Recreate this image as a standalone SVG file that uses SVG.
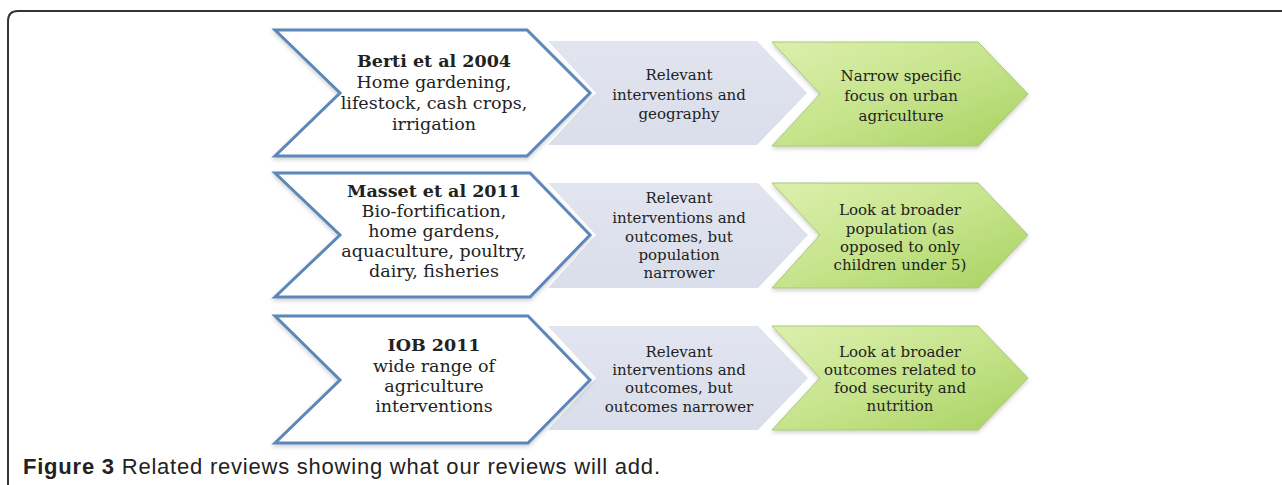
<svg xmlns="http://www.w3.org/2000/svg" width="1282" height="485" viewBox="0 0 1282 485">
  <defs>
    <linearGradient id="gGreen" x1="0" y1="0" x2="1" y2="1">
      <stop offset="0" stop-color="#dcefac"/>
      <stop offset="0.5" stop-color="#c6e48c"/>
      <stop offset="1" stop-color="#a8d160"/>
    </linearGradient>
    <linearGradient id="gGrey" x1="0" y1="0" x2="0" y2="1">
      <stop offset="0" stop-color="#e2e5f0"/>
      <stop offset="1" stop-color="#dadeea"/>
    </linearGradient>
    <filter id="shadow" x="-10%" y="-10%" width="120%" height="130%">
      <feDropShadow dx="0" dy="2" stdDeviation="2" flood-color="#000" flood-opacity="0.2"/>
    </filter>
  </defs>
  <style>
    .frame { fill: none; stroke: #333; stroke-width: 2; }
    .white { fill: #ffffff; stroke: #5b87b8; stroke-width: 3; stroke-linejoin: miter; filter: url(#shadow); }
    .grey { fill: url(#gGrey); stroke: none; }
    .green { fill: url(#gGreen); stroke: #a8c878; stroke-width: 1; filter: url(#shadow); }
    .t { font-family: "DejaVu Serif", "Liberation Serif", serif; fill: #222; text-anchor: middle; }
    .tw { font-size: 17.5px; }
    .tb { font-size: 17.5px; font-weight: bold; }
    .ts { font-size: 15px; }
    .cap { font-family: "Liberation Sans", Arial, sans-serif; font-size: 22px; fill: #222; }
  </style>

  <path class="frame" d="M8,485 V21 Q8,11 18,11 H1282"/>

  <g id="connectors"></g>

  <!-- Row 1 -->
  <g id="green1">
    <polygon class="green" points="772,42 978,42 1028,94 978,146 772,146 820,94"/>
    <text class="t ts"><tspan x="901" y="81">Narrow specific</tspan><tspan x="901" y="101">focus on urban</tspan><tspan x="901" y="121">agriculture</tspan></text>
  </g>
  <g id="grey1">
    <polygon class="grey" points="548,41 757,41 807,93 757,145 548,145 596,93"/>
    <text class="t ts"><tspan x="679" y="80">Relevant</tspan><tspan x="679" y="100">interventions and</tspan><tspan x="679" y="119">geography</tspan></text>
  </g>
  <g id="white1">
    <polygon class="white" points="275,30 527,30 590,93 527,156 275,156 340,93"/>
    <text class="t tw"><tspan class="tb" x="434" y="67">Berti et al 2004</tspan><tspan x="434" y="88">Home gardening,</tspan><tspan x="434" y="109">lifestock, cash crops,</tspan><tspan x="434" y="130">irrigation</tspan></text>
  </g>

  <!-- Row 2 -->
  <g id="green2">
    <polygon class="green" points="772,183 978,183 1028,235 978,288 772,288 820,235"/>
    <text class="t ts"><tspan x="900" y="215">Look at broader</tspan><tspan x="900" y="234">population (as</tspan><tspan x="900" y="252">opposed to only</tspan><tspan x="900" y="270">children under 5)</tspan></text>
  </g>
  <g id="grey2">
    <polygon class="grey" points="548,183 758,183 808,235 758,288 548,288 596,235"/>
    <text class="t ts"><tspan x="679" y="203">Relevant</tspan><tspan x="679" y="223">interventions and</tspan><tspan x="679" y="242">outcomes, but</tspan><tspan x="679" y="260">population</tspan><tspan x="679" y="278">narrower</tspan></text>
  </g>
  <g id="white2">
    <polygon class="white" points="275,173 530,173 590,235 530,297 275,297 340,235"/>
    <text class="t tw"><tspan class="tb" x="434" y="197">Masset et al 2011</tspan><tspan x="434" y="217">Bio-fortification,</tspan><tspan x="434" y="237">home gardens,</tspan><tspan x="434" y="257">aquaculture, poultry,</tspan><tspan x="434" y="277">dairy, fisheries</tspan></text>
  </g>

  <!-- Row 3 -->
  <g id="green3">
    <polygon class="green" points="772,326 978,326 1028,378 978,430 772,430 820,378"/>
    <text class="t ts"><tspan x="900" y="357">Look at broader</tspan><tspan x="900" y="375">outcomes related to</tspan><tspan x="900" y="393">food security and</tspan><tspan x="900" y="411">nutrition</tspan></text>
  </g>
  <g id="grey3">
    <polygon class="grey" points="548,326 758,326 808,378 758,430 548,430 596,378"/>
    <text class="t ts"><tspan x="679" y="357">Relevant</tspan><tspan x="679" y="375">interventions and</tspan><tspan x="679" y="393">outcomes, but</tspan><tspan x="679" y="412">outcomes narrower</tspan></text>
  </g>
  <g id="white3">
    <polygon class="white" points="275,316 528,316 590,380 528,443 275,443 340,380"/>
    <text class="t tw"><tspan class="tb" x="434" y="351">IOB 2011</tspan><tspan x="434" y="372">wide range of</tspan><tspan x="434" y="392">agriculture</tspan><tspan x="434" y="412">interventions</tspan></text>
  </g>

  <text class="cap" x="23" y="474" textLength="637" lengthAdjust="spacing"><tspan font-weight="bold">Figure 3</tspan> Related reviews showing what our reviews will add.</text>
</svg>
